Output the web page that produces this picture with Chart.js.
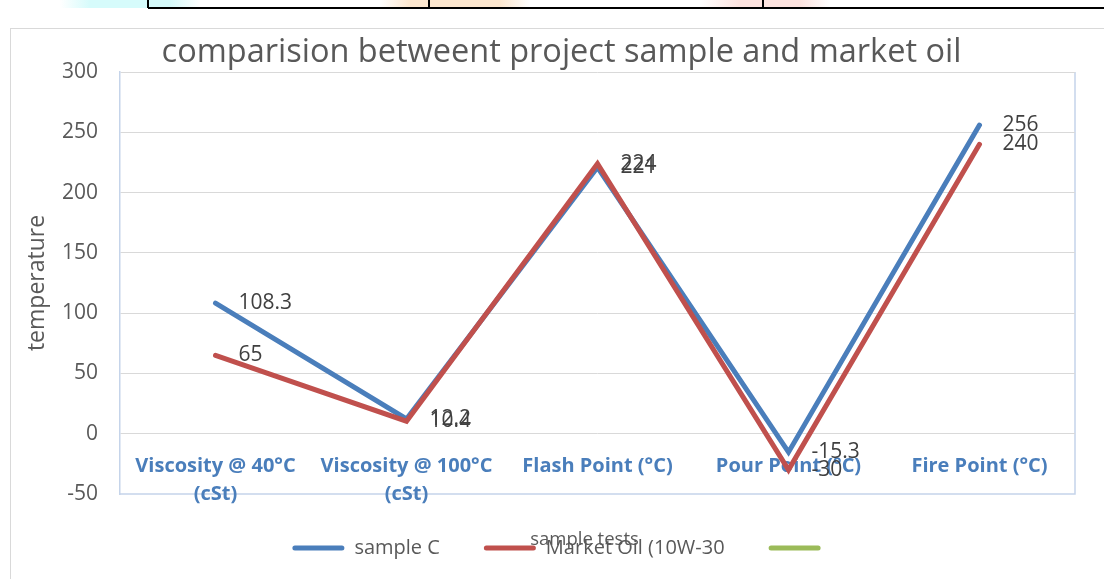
<!DOCTYPE html>
<html>
<head>
<meta charset="utf-8">
<script src="https://cdn.jsdelivr.net/npm/chart.js@4.4.1/dist/chart.umd.min.js"></script>
<style>
  body { margin: 0; background: #fff; width: 1104px; height: 579px; overflow: hidden; position: relative; }
  .strip { position: absolute; left: 0; top: 0; width: 1104px; height: 8px;
    background:
      linear-gradient(90deg, transparent 60px, #d6fbfb 90px, #d6fbfb 170px, transparent 200px, transparent 380px, #fde7cf 410px, #fde7cf 500px, transparent 530px, transparent 700px, #fde3df 740px, #fde3df 800px, transparent 830px); }
  .strip span { position: absolute; top: 0; height: 8px; border-left: 2px solid #000; }
  .strip::after { content: ""; position: absolute; left: 148px; right: 0; top: 7px; border-top: 2px solid #000; }
  .frame { position: absolute; left: 10px; top: 28px; width: 1100px; height: 560px; border: 1px solid #d9d9d9; box-sizing: border-box; }
  .wrap { position: absolute; left: 10px; top: 28px; width: 1094px; height: 551px; }
</style>
</head>
<body>
<div class="strip"><span style="left:147px"></span><span style="left:428px"></span><span style="left:762px"></span></div>
<div class="frame"></div>
<div class="wrap"><canvas id="chart"></canvas></div>
<script>
const tests = [
  ["Viscosity @ 40°C", "(cSt)"],
  ["Viscosity @ 100°C", "(cSt)"],
  "Flash Point (°C)",
  "Pour Point (°C)",
  "Fire Point (°C)",
];
const sampleC = [108.3, 12.2, 221, -15.3, 256];
const marketOil = [65, 10.4, 224, -30, 240];
const yTicks = [-50, 0, 50, 100, 150, 200, 250, 300];

Chart.defaults.color = "#595959";
Chart.defaults.font.family = "'Open Sans', sans-serif";

// outline of the plot area (right and bottom in light blue), under the axis labels
const plotFrame = {
  id: "plotFrame",
  beforeDraw(chart) {
    const { ctx, chartArea: a } = chart;
    ctx.save();
    ctx.strokeStyle = "#c5d4ea";
    ctx.lineWidth = 1.5;
    ctx.beginPath();
    ctx.moveTo(a.left, a.bottom);
    ctx.lineTo(a.right, a.bottom);
    ctx.lineTo(a.right, a.top);
    ctx.stroke();
    ctx.restore();
  },
};

// value labels to the right of each point + x axis title
const valueLabels = {
  id: "valueLabels",
  afterDraw(chart) {
    const { ctx, chartArea: a } = chart;
    ctx.save();
    ctx.font = "21px 'Open Sans', sans-serif";
    ctx.fillStyle = "#404040";
    ctx.textAlign = "left";
    ctx.textBaseline = "middle";
    chart.data.datasets.forEach((ds, i) => {
      const meta = chart.getDatasetMeta(i);
      meta.data.forEach((pt, j) => ctx.fillText(ds.data[j], pt.x + 23, pt.y));
    });
    ctx.fillStyle = "#595959";
    ctx.textAlign = "center";
    ctx.font = "18.5px 'Open Sans', sans-serif";
    ctx.fillText("sample tests", (a.left + a.right) / 2 - 13, a.bottom + 46);
    ctx.restore();
  },
};

new Chart(document.getElementById("chart"), {
  type: "line",
  data: {
    labels: tests,
    datasets: [
      {
        label: "sample C",
        data: sampleC,
        borderColor: "#4a7ebb",
        backgroundColor: "#4a7ebb",
        order: 2,
      },
      {
        label: "Market Oil (10W-30",
        data: marketOil,
        borderColor: "#c0504d",
        backgroundColor: "#c0504d",
        order: 1,
      },
      {
        label: "",
        data: [],
        borderColor: "#9bbb59",
        backgroundColor: "#9bbb59",
        order: 3,
      },
    ],
  },
  options: {
    responsive: true,
    maintainAspectRatio: false,
    animation: false,
    layout: { padding: { left: 38, right: 29, top: 0, bottom: 11 } },
    elements: {
      line: { borderWidth: 5, tension: 0, borderCapStyle: "round", borderJoinStyle: "miter" },
      point: { radius: 0, hoverRadius: 0 },
    },
    scales: {
      x: {
        type: "category",
        position: { y: 0 },
        offset: true,
        grid: { display: false, drawTicks: false },
        border: { display: false },
        ticks: {
          color: "#4a7ebb",
          font: { size: 20, weight: "bold", lineHeight: 1.4 },
          padding: 19,
          maxRotation: 0,
          autoSkip: false,
        },
      },
      y: {
        min: -50,
        max: 300,
        afterFit: (s) => { s.width = 72; },
        afterBuildTicks: (s) => { s.ticks = yTicks.map((v) => ({ value: v })); },
        grid: {
          color: (c) => (c.tick && c.tick.value === -50 ? "rgba(0,0,0,0)" : "#d9d9d9"),
          drawTicks: false,
        },
        border: { color: "#c5d4ea", width: 1.5 },
        ticks: { font: { size: 21 }, padding: 22, color: "#595959" },
        title: {
          display: true,
          text: "temperature",
          font: { size: 23 },
          padding: { top: -24, bottom: 0 },
          color: "#595959",
        },
      },
    },
    plugins: {
      title: {
        display: true,
        text: "comparision betweent project sample and market oil",
        font: { size: 32.5, weight: "normal" },
        color: "#595959",
        padding: { top: 5, bottom: 0 },
      },
      legend: {
        position: "bottom",
        labels: {
          boxWidth: 52,
          boxHeight: 5,
          padding: 44,
          font: { size: 20 },
          color: "#595959",
          useBorderRadius: true,
          borderRadius: 2.5,
          generateLabels: (chart) =>
            Chart.defaults.plugins.legend.labels
              .generateLabels(chart)
              .map((l) => ({ ...l, lineWidth: 0, fillStyle: l.strokeStyle }))
              .sort((p, q) => p.datasetIndex - q.datasetIndex),
        },
      },
      tooltip: { enabled: false },
    },
  },
  plugins: [plotFrame, valueLabels],
});
</script>
</body>
</html>
